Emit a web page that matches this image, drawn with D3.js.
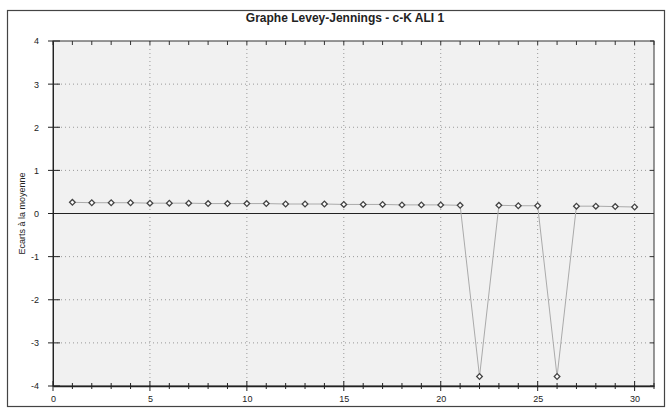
<!DOCTYPE html>
<html>
<head>
  <title>Graphe Levey-Jennings</title>
  <style>
    body { margin: 0; background: #fff; }
    text { font-family: "Liberation Sans", Arial, sans-serif; fill: #222; }
  </style>
</head>
<body>
  <svg width="672" height="417"></svg>

  <script src="https://unpkg.com/d3@7/dist/d3.min.js"></script>
  <script type="text/javascript">
    var title = "Graphe Levey-Jennings - c-K  ALI 1",
      yLabel = "Ecarts à la moyenne"

    var runs = [1, 2, 3, 4, 5, 6, 7, 8, 9, 10, 11, 12, 13, 14, 15,
      16, 17, 18, 19, 20, 21, 22, 23, 24, 25, 26, 27, 28, 29, 30]
    var deviations = [0.26, 0.25, 0.25, 0.25, 0.24, 0.24, 0.24, 0.23, 0.23, 0.23,
      0.23, 0.22, 0.22, 0.22, 0.21, 0.21, 0.21, 0.2, 0.2, 0.2,
      0.19, -3.78, 0.19, 0.18, 0.18, -3.78, 0.17, 0.17, 0.16, 0.15]

    var xTicks = [0, 5, 10, 15, 20, 25, 30],
      yTicks = [-4, -3, -2, -1, 0, 1, 2, 3, 4]

    var svg = d3.select("svg"),
      x = d3.scaleLinear().domain([0, 31]).range([53, 654]),
      y = d3.scaleLinear().domain([-4, 4]).range([386, 41])

    // outer frame
    svg.append("rect")
      .attr("x", 7.5).attr("y", 10.5).attr("width", 657).attr("height", 396)
      .attr("fill", "none").attr("stroke", "#444").attr("stroke-width", 1.2)

    svg.append("text")
      .attr("x", 345).attr("y", 22).attr("text-anchor", "middle")
      .attr("font-size", 12).attr("font-weight", "bold")
      .text(title)

    // plot background
    svg.append("rect")
      .attr("x", x(0)).attr("y", y(4))
      .attr("width", x(31) - x(0)).attr("height", y(-4) - y(4))
      .attr("fill", "#f1f1f1")

    // dotted grid
    svg.selectAll(".vgrid")
      .data(xTicks.filter(d => d > 0)).enter()
      .append("line")
      .attr("x1", d => x(d)).attr("x2", d => x(d))
      .attr("y1", y(4)).attr("y2", y(-4))
      .attr("stroke", "#999").attr("stroke-dasharray", "1,3")

    svg.selectAll(".hgrid")
      .data(yTicks.filter(d => d !== 0 && Math.abs(d) < 4)).enter()
      .append("line")
      .attr("x1", x(0)).attr("x2", x(31))
      .attr("y1", d => y(d)).attr("y2", d => y(d))
      .attr("stroke", "#999").attr("stroke-dasharray", "1,3")

    // zero line
    svg.append("line")
      .attr("x1", x(0)).attr("x2", x(31))
      .attr("y1", y(0)).attr("y2", y(0))
      .attr("stroke", "#222").attr("stroke-width", 1.2)

    // plot border
    svg.append("rect")
      .attr("x", x(0)).attr("y", y(4))
      .attr("width", x(31) - x(0)).attr("height", y(-4) - y(4))
      .attr("fill", "none").attr("stroke", "#333").attr("stroke-width", 1)

    // axes (plain hyphen for negatives, as in the original)
    var fmt = d => String(d)

    var bottom = d3.axisBottom(x).tickValues(xTicks).tickFormat(fmt).tickSize(0).tickPadding(10)
    svg.append("g").attr("transform", "translate(0," + y(-4) + ")")
      .call(bottom)
      .call(g => g.select(".domain").attr("stroke", "#222").attr("stroke-width", 1.3))
      .call(g => g.selectAll("text").attr("font-size", 9).attr("fill", "#333"))

    var intTicks = d3.range(0, 32)
    svg.selectAll(".xtick")
      .data(intTicks).enter()
      .append("line")
      .attr("x1", d => x(d)).attr("x2", d => x(d))
      .attr("y1", d => y(-4) - (d % 5 === 0 ? 5 : 3))
      .attr("y2", d => y(-4) + (d % 5 === 0 ? 5 : 3))
      .attr("stroke", "#222")

    svg.selectAll(".ttick")
      .data(intTicks).enter()
      .append("line")
      .attr("x1", d => x(d)).attr("x2", d => x(d))
      .attr("y1", y(4)).attr("y2", y(4) + 4)
      .attr("stroke", "#333")

    var left = d3.axisLeft(y).tickValues(yTicks).tickFormat(fmt).tickSize(0).tickPadding(14)
    svg.append("g").attr("transform", "translate(" + x(0) + ",0)")
      .call(left)
      .call(g => g.select(".domain").attr("stroke", "#222"))
      .call(g => g.selectAll("text").attr("font-size", 9).attr("fill", "#333"))

    svg.selectAll(".ytick")
      .data(yTicks).enter()
      .append("line")
      .attr("x1", x(0) - 5).attr("x2", x(0) + 7)
      .attr("y1", d => y(d)).attr("y2", d => y(d))
      .attr("stroke", "#222")

    svg.selectAll(".rtick")
      .data(yTicks).enter()
      .append("line")
      .attr("x1", x(31) - 4).attr("x2", x(31))
      .attr("y1", d => y(d)).attr("y2", d => y(d))
      .attr("stroke", "#333")

    svg.append("text")
      .attr("transform", "translate(25," + y(0) + ") rotate(-90)")
      .attr("text-anchor", "middle").attr("font-size", 9).attr("fill", "#333")
      .text(yLabel)

    // series
    var pts = runs.map((r, i) => ({run: r, v: deviations[i]}))

    svg.append("path")
      .datum(pts)
      .attr("fill", "none").attr("stroke", "#aaa").attr("stroke-width", 1)
      .attr("d", d3.line().x(d => x(d.run)).y(d => y(d.v)))

    svg.selectAll(".pt")
      .data(pts).enter()
      .append("path")
      .attr("class", "pt")
      .attr("transform", d => "translate(" + x(d.run) + "," + y(d.v) + ") rotate(45)")
      .attr("d", "M-2,-2h4v4h-4z")
      .attr("fill", "#fff").attr("stroke", "#444").attr("stroke-width", 1.3)
  </script>
</body>
</html>
